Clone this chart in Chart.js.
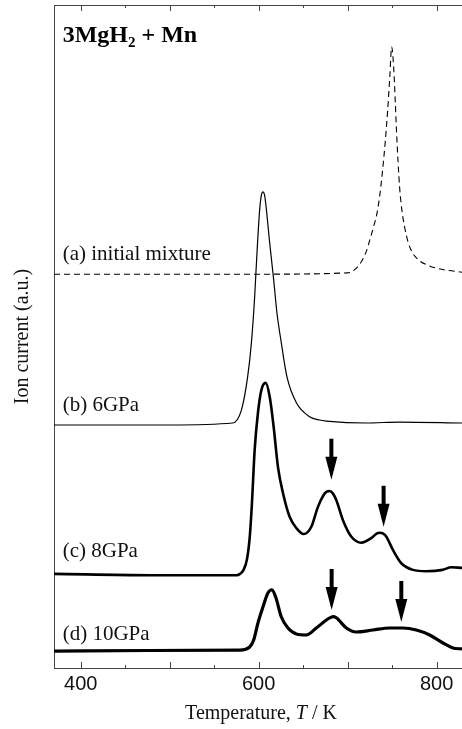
<!DOCTYPE html>
<html>
<head>
<meta charset="utf-8">
<script src="https://cdn.jsdelivr.net/npm/chart.js@4.4.1/dist/chart.umd.min.js"></script>
<style>
  body { margin: 0; background: #fff; }
  canvas { display: block; }
</style>
</head>
<body>
<canvas id="chartTds" width="462" height="729"></canvas>
<script>
// temperature (K) and ion current (a.u., curves stacked with offsets)
const tempA = [370, 600, 700, 713, 720, 725, 729, 733, 736, 739, 742, 745, 747.5, 749.4, 751.7, 753.5, 755, 758.4, 761, 764, 768, 773, 780, 789, 800, 811, 828.5];
const currA = [59.4, 59.4, 59.6, 60.8, 62.5, 64.6, 66.5, 68.6, 71.2, 74.7, 79.0, 84.2, 89.5, 93.7, 90.6, 85.5, 80.7, 72.5, 69.0, 66.5, 64.2, 62.6, 61.5, 60.8, 60.3, 60.0, 59.7];

const tempB = [370, 500, 570.8, 580.6, 587.6, 591.8, 595.5, 598.1, 601.1, 603, 604.8, 606.5, 607.9, 612.4, 616.9, 620.6, 625.5, 631.8, 642.4, 657.3, 668.5, 676, 721, 758.4, 828.5];
const currB = [36.65, 36.65, 36.95, 38.9, 43.9, 49.0, 56.0, 62.6, 69.1, 71.3, 71.8, 71.4, 70.1, 64.1, 58.5, 53.5, 49.0, 43.9, 40.0, 37.9, 37.4, 37.25, 36.95, 37.1, 36.95];

const tempC = [370, 477.5, 575.3, 579, 583, 587, 590, 592.5, 595.5, 599.2, 603.0, 607.9, 612.4, 616.9, 621.7, 627.3, 634.8, 642.4, 650.6, 659.2, 666.6, 673.0, 676.5, 679.8, 683.5, 687.3, 694.7, 704.2, 715.4, 726.6, 733, 736.0, 739.5, 743.5, 750.9, 760.3, 773.4, 788.4, 806.7, 816.5, 828.5];
const currC = [14.2, 14.0, 14.0, 14.2, 14.8, 16.5, 19.8, 25.0, 32.9, 38.5, 41.9, 43.0, 40.9, 36.3, 30.3, 26.4, 22.8, 21.1, 20.2, 21.3, 24.3, 26.1, 26.6, 26.7, 26.3, 25.3, 22.3, 19.8, 18.9, 19.6, 20.3, 20.4, 20.3, 19.8, 17.8, 15.8, 14.8, 14.6, 14.8, 15.2, 15.1];

const tempD = [370, 477.5, 578.7, 589.9, 594.4, 599.2, 604.8, 610.4, 614.9, 619.1, 625.5, 632.9, 642.4, 653.6, 664.8, 676.1, 680.5, 684.3, 688, 691.0, 698.5, 709.8, 728.4, 747.2, 762.1, 777.2, 792.1, 807.1, 818.3, 828.5];
const currD = [2.56, 2.64, 2.71, 3.17, 4.22, 6.79, 9.20, 11.3, 11.8, 10.7, 7.69, 6.03, 5.13, 4.98, 6.03, 7.24, 7.6, 7.75, 7.5, 7.09, 6.03, 5.43, 5.73, 6.03, 6.03, 5.73, 4.98, 3.77, 3.02, 2.87];

const curveLabels = ['(a) initial mixture', '(b) 6GPa', '(c) 8GPa', '(d) 10GPa'];
const labelT = 379.8;
const labelY = [61.5, 38.7, 16.7, 4.2];

// arrows marking the extra desorption peaks (tip position)
const arrowT = [681.7, 740.4, 682, 760.3];
const arrowTipY = [28.4, 21.3, 8.75, 6.94];

const xMin = 370;
const xMax = 828.5;

function pts(xs, ys) {
    return xs.map((x, i) => ({ x: x, y: ys[i] }));
}

const serif = "'Liberation Serif', 'Times New Roman', serif";
const sans = "'Liberation Sans', Arial, sans-serif";
const axisColor = '#444';

const decor = {
    id: 'decor',
    afterDraw(chart) {
        const ctx = chart.ctx;
        const xs = chart.scales.x;
        const ys = chart.scales.y;
        const area = chart.chartArea;
        ctx.save();

        // top frame line
        ctx.strokeStyle = axisColor;
        ctx.lineWidth = 1;
        ctx.beginPath();
        ctx.moveTo(area.left, area.top + 0.5);
        ctx.lineTo(area.right, area.top + 0.5);
        ctx.stroke();

        // inward ticks on top and bottom
        xs.ticks.forEach(t => {
            if (t.value % 50 !== 0) return;
            const px = Math.round(xs.getPixelForValue(t.value)) + 0.5;
            const len = t.value % 100 === 0 ? 6 : 3;
            ctx.beginPath();
            ctx.moveTo(px, area.bottom);
            ctx.lineTo(px, area.bottom - len);
            ctx.moveTo(px, area.top);
            ctx.lineTo(px, area.top + len);
            ctx.stroke();
        });

        // arrows
        ctx.fillStyle = '#000';
        arrowT.forEach((t, i) => {
            const px = xs.getPixelForValue(t);
            const tip = ys.getPixelForValue(arrowTipY[i]);
            ctx.fillRect(px - 2, tip - 41, 4, 20);
            ctx.beginPath();
            ctx.moveTo(px - 6, tip - 23);
            ctx.lineTo(px + 6, tip - 23);
            ctx.lineTo(px, tip);
            ctx.closePath();
            ctx.fill();
        });

        // curve labels
        ctx.fillStyle = '#111';
        ctx.font = '21px ' + serif;
        ctx.textBaseline = 'alphabetic';
        ctx.textAlign = 'left';
        curveLabels.forEach((s, i) => {
            ctx.fillText(s, xs.getPixelForValue(labelT), ys.getPixelForValue(labelY[i]));
        });

        // sample title 3MgH2 + Mn
        let x = xs.getPixelForValue(labelT);
        const y = ys.getPixelForValue(94.4);
        ctx.fillStyle = '#000';
        ctx.font = 'bold 24px ' + serif;
        ctx.fillText('3MgH', x, y);
        x += ctx.measureText('3MgH').width;
        ctx.font = 'bold 15px ' + serif;
        ctx.fillText('2', x, y + 5);
        x += ctx.measureText('2').width;
        ctx.font = 'bold 24px ' + serif;
        ctx.fillText(' + Mn', x, y);

        // x axis title with italic T
        const parts = [['Temperature, ', ''], ['T', 'italic '], [' / K', '']];
        let total = 0;
        parts.forEach(p => {
            ctx.font = p[1] + '20px ' + serif;
            total += ctx.measureText(p[0]).width;
        });
        let tx = (area.left + area.right) / 2 + 3 - total / 2;
        ctx.fillStyle = '#111';
        parts.forEach(p => {
            ctx.font = p[1] + '20px ' + serif;
            ctx.fillText(p[0], tx, 719);
            tx += ctx.measureText(p[0]).width;
        });

        ctx.restore();
    }
};

new Chart(document.getElementById('chartTds'), {
    type: 'line',
    data: {
        datasets: [
            { data: pts(tempA, currA), borderColor: '#000', borderWidth: 1.1, borderDash: [6, 4] },
            { data: pts(tempB, currB), borderColor: '#000', borderWidth: 1.2 },
            { data: pts(tempC, currC), borderColor: '#000', borderWidth: 2.6 },
            { data: pts(tempD, currD), borderColor: '#000', borderWidth: 3.2 }
        ]
    },
    options: {
        responsive: false,
        animation: false,
        layout: { padding: { top: 5, right: 0, left: 0, bottom: 0 } },
        elements: {
            point: { radius: 0 },
            line: { cubicInterpolationMode: 'monotone', fill: false }
        },
        plugins: {
            legend: { display: false },
            tooltip: { enabled: false }
        },
        scales: {
            x: {
                type: 'linear',
                min: xMin,
                max: xMax,
                grid: { display: false, drawTicks: false },
                border: { display: true, color: axisColor, width: 1 },
                ticks: {
                    stepSize: 50,
                    includeBounds: false,
                    autoSkip: false,
                    maxRotation: 0,
                    padding: 4,
                    color: '#111',
                    font: { family: sans, size: 20 },
                    callback: v => (v % 200 === 0 ? String(v) : '')
                },
                title: { display: false },
                afterFit: s => { s.height = 61; }
            },
            y: {
                min: 0,
                max: 100,
                grid: { display: false, drawTicks: false },
                border: { display: true, color: axisColor, width: 1 },
                ticks: { display: false },
                title: {
                    display: true,
                    text: 'Ion current (a.u.)',
                    color: '#111',
                    font: { family: serif, size: 20 },
                    padding: { top: 11, bottom: 0 }
                },
                afterFit: s => { s.width = 54; }
            }
        }
    },
    plugins: [decor]
});
</script>
</body>
</html>
